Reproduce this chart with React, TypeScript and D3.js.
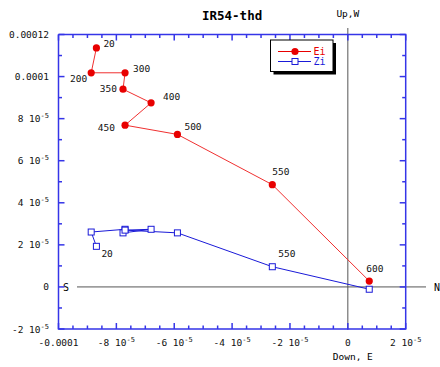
import * as d3 from "d3"

// demag steps (mT)
const steps = ["20", "200", "300", "350", "400", "450", "500", "550", "600"]

// Ei: horizontal projection (x = E/W, y = N/S)
const eiX = [-8.69e-5, -8.87e-5, -7.7e-5, -7.77e-5, -6.8e-5, -7.7e-5, -5.89e-5, -2.61e-5, 0.74e-5]
const eiY = [11.36e-5, 10.18e-5, 10.18e-5, 9.4e-5, 8.75e-5, 7.69e-5, 7.25e-5, 4.86e-5, 0.28e-5]

// Zi: vertical projection
const ziX = [-8.69e-5, -8.87e-5, -7.7e-5, -7.77e-5, -6.8e-5, -7.7e-5, -5.89e-5, -2.61e-5, 0.74e-5]
const ziY = [1.93e-5, 2.61e-5, 2.74e-5, 2.57e-5, 2.74e-5, 2.7e-5, 2.57e-5, 0.96e-5, -0.11e-5]

const xTicks = [-1e-4, -8e-5, -6e-5, -4e-5, -2e-5, 0, 2e-5]
const xTickLabels = ["-0.0001", "-8 10^-5", "-6 10^-5", "-4 10^-5", "-2 10^-5", "0", "2 10^-5"]
const yTicks = [-2e-5, 0, 2e-5, 4e-5, 6e-5, 8e-5, 1e-4, 1.2e-4]
const yTickLabels = ["-2 10^-5", "0", "2 10^-5", "4 10^-5", "6 10^-5", "8 10^-5", "0.0001", "0.00012"]

// which steps get a label, and where the label sits relative to the point
const eiLabelOffsets: Record<string, [number, number, string]> = {
  "20": [7, -4, "start"],
  "200": [-4, 6, "end"],
  "300": [8, -4, "start"],
  "350": [-6, -1, "end"],
  "400": [12, -6, "start"],
  "450": [-10, 2, "end"],
  "500": [7, -8, "start"],
  "550": [0, -13, "start"],
  "600": [-3, -13, "start"],
}
const ziLabelOffsets: Record<string, [number, number, string]> = {
  "20": [5, 7, "start"],
  "550": [6, -13, "start"],
}

const W = 440
const H = 367
const margin = { top: 34.5, right: 34.3, bottom: 38, left: 58.5 }
const tickFont = "'DejaVu Sans Mono', monospace"
const axisBlue = "#3535e8"
const red = "#e80000"
const blue = "#1a1ad8"

const TickText = ({ label, x, y, anchor }: { label: string; x: number; y: number; anchor: string }) => {
  const [main, exp] = label.split("^")
  return (
    <text x={x} y={y} textAnchor={anchor} fontFamily={tickFont} fontSize={9.5} fill="#111">
      {main}
      {exp && (
        <tspan dy={-4} fontSize={7}>
          {exp}
        </tspan>
      )}
    </text>
  )
}

export default function App() {
  const x = d3.scaleLinear().domain([-1e-4, 2e-5]).range([margin.left, W - margin.right])
  const y = d3.scaleLinear().domain([-2e-5, 1.2e-4]).range([H - margin.bottom, margin.top])
  const [x0, x1] = x.range()
  const [y0, y1] = y.range()

  const xMinor = d3.range(-1e-4, 2.01e-5, 5e-6)
  const yMinor = d3.range(-2e-5, 1.201e-4, 1e-5)
  const isMajorX = (v: number) => xTicks.some((t) => Math.abs(t - v) < 1e-9)
  const isMajorY = (v: number) => yTicks.some((t) => Math.abs(t - v) < 1e-9)

  const line = d3
    .line<[number, number]>()
    .x((p) => x(p[0]))
    .y((p) => y(p[1]))
  const eiPts = eiX.map((v, i) => [v, eiY[i]] as [number, number])
  const ziPts = ziX.map((v, i) => [v, ziY[i]] as [number, number])

  return (
    <svg width={W} height={H} style={{ position: "absolute", left: 0, top: 0, background: "#fff" }}>
      {/* title */}
      <text x={(x0 + x1) / 2} y={20} textAnchor="middle" fontFamily={tickFont} fontWeight="bold" fontSize={12.5}>
        IR54-thd
      </text>

      {/* axes cross */}
      <line x1={x(0)} x2={x(0)} y1={28} y2={y0 + 1} stroke="#555" />
      <line x1={77} x2={426} y1={y(0)} y2={y(0)} stroke="#555" />
      <text x={x(0)} y={17} textAnchor="middle" fontFamily={tickFont} fontSize={9.5}>Up,W</text>
      <text x={x(0) + 5} y={360} textAnchor="middle" fontFamily={tickFont} fontSize={9.5}>Down, E</text>
      <text x={66} y={y(0) + 4} textAnchor="middle" fontFamily={tickFont} fontSize={10}>S</text>
      <text x={434} y={y(0) + 4} fontFamily={tickFont} fontSize={10}>N</text>

      {/* frame with inward ticks */}
      <g stroke={axisBlue} strokeWidth={1.5} fill="none">
        <path d={`M${x0},${y1}V${y0}H${x1}V${y1}H${x0}`} />
        {xMinor.map((v, i) => {
          const len = isMajorX(v) ? 6 : 3.5
          return (
            <g key={"xt" + i}>
              <line x1={x(v)} x2={x(v)} y1={y0} y2={y0 - len} />
              <line x1={x(v)} x2={x(v)} y1={y1} y2={y1 + len} />
            </g>
          )
        })}
        {yMinor.map((v, i) => {
          const len = isMajorY(v) ? 6 : 3.5
          return (
            <g key={"yt" + i}>
              <line x1={x0} x2={x0 + len} y1={y(v)} y2={y(v)} />
              <line x1={x1} x2={x1 - len} y1={y(v)} y2={y(v)} />
            </g>
          )
        })}
      </g>

      {xTicks.map((v, i) => (
        <TickText key={"xl" + i} label={xTickLabels[i]} x={x(v)} y={y0 + 17} anchor="middle" />
      ))}
      {yTicks.map((v, i) => (
        <TickText key={"yl" + i} label={yTickLabels[i]} x={49} y={y(v) + 3.5} anchor="end" />
      ))}

      {/* Ei */}
      <path d={line(eiPts) || ""} fill="none" stroke="#f03030" strokeWidth={1} />
      {eiPts.map((p, i) => (
        <circle key={"ec" + i} cx={x(p[0])} cy={y(p[1])} r={3.6} fill={red} />
      ))}
      {steps.map((s, i) => {
        const o = eiLabelOffsets[s]
        if (!o) return null
        return (
          <text key={"el" + i} x={x(eiX[i]) + o[0]} y={y(eiY[i]) + o[1] + 3.5} textAnchor={o[2]}
            fontFamily={tickFont} fontSize={9.5} fill="#111">
            {s}
          </text>
        )
      })}

      {/* Zi */}
      <path d={line(ziPts) || ""} fill="none" stroke={blue} strokeWidth={1} />
      {ziPts.map((p, i) => (
        <rect key={"zr" + i} x={x(p[0]) - 3} y={y(p[1]) - 3} width={6} height={6} fill="#fff" stroke={blue} strokeWidth={1} />
      ))}
      {steps.map((s, i) => {
        const o = ziLabelOffsets[s]
        if (!o) return null
        return (
          <text key={"zl" + i} x={x(ziX[i]) + o[0]} y={y(ziY[i]) + o[1] + 3.5} textAnchor={o[2]}
            fontFamily={tickFont} fontSize={9.5} fill="#111">
            {s}
          </text>
        )
      })}

      {/* legend */}
      <g>
        <rect x={273.5} y={43} width={62.5} height={31.5} fill="#000" />
        <rect x={270.5} y={40} width={62.5} height={31.5} fill="#fff" stroke="#000" strokeWidth={1} />
        <line x1={278} x2={311} y1={51.5} y2={51.5} stroke={red} />
        <circle cx={295} cy={51.5} r={3.6} fill={red} />
        <text x={313.5} y={55} fontFamily={tickFont} fontSize={10} fill={red}>Ei</text>
        <line x1={278} x2={311} y1={61.5} y2={61.5} stroke={blue} />
        <rect x={292} y={58.5} width={6} height={6} fill="#fff" stroke={blue} />
        <text x={313.5} y={65} fontFamily={tickFont} fontSize={10} fill={blue}>Zi</text>
      </g>
    </svg>
  )
}
